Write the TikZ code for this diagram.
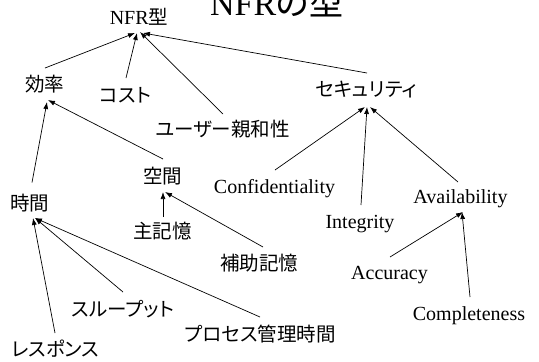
\documentclass[tikz,border=0pt]{standalone}
\usepackage{fontspec}
\setmainfont{Liberation Serif}
\newfontfamily\jp[RawFeature=+palt]{Noto Sans CJK JP}
\usetikzlibrary{arrows.meta}
\tikzset{
  lbl/.style={anchor=base, inner sep=0pt, font=\fontsize{20}{20}\selectfont},
  jlbl/.style={anchor=base, inner sep=0pt, font=\fontsize{19.5}{20}\selectfont\jp},
  arr/.style={line width=0.7pt, -{Latex[length=7pt,width=5pt]}},
}
\begin{document}
\begin{tikzpicture}[x=1pt,y=-1pt]
\useasboundingbox (0,0) rectangle (539,362);
\node[anchor=base west, inner sep=0pt, font=\fontsize{34}{34}\selectfont] (title) at (210,15) {NFR{\jp の型}};
\node[lbl] (nfr) at (139,24) {NFR{\jp\fontsize{19.5}{20}\selectfont 型}};
\node[jlbl] (kouritsu) at (45,91.5) {効率};
\node[jlbl] (cost) at (125.5,102.5) {コスト};
\node[jlbl] (user) at (222.5,136.5) {ユーザー親和性};
\node[jlbl] (sec) at (366,96.5) {セキュリティ};
\node[jlbl] (kukan) at (162.5,183.5) {空間};
\node[jlbl] (jikan) at (30,210.5) {時間};
\node[jlbl] (shu) at (162.5,238.5) {主記憶};
\node[jlbl] (hojo) at (259,270.5) {補助記憶};
\node[jlbl] (thru) at (123,316.5) {スループット};
\node[jlbl] (proc) at (260,341.5) {プロセス管理時間};
\node[jlbl] (resp) at (55.5,356.5) {レスポンス};
\node[lbl] (conf) at (274.5,193) {Confidentiality};
\node[lbl] (integ) at (360,228) {Integrity};
\node[lbl] (avail) at (460.5,203) {Availability};
\node[lbl] (acc) at (389.5,279) {Accuracy};
\node[lbl] (comp) at (469,320) {Completeness};

\draw[arr] ([shift={(0,-23.5)}]kouritsu.base) -- ([shift={(-4,9)}]nfr.base);
\draw[arr] ([shift={(0.5,-24.5)}]cost.base) -- ([shift={(-2,9)}]nfr.base);
\draw[arr] ([shift={(0.5,-22.5)}]user.base) -- ([shift={(1,8)}]nfr.base);
\draw[arr] ([shift={(1,-23.5)}]sec.base) -- ([shift={(4,9)}]nfr.base);

\draw[arr] ([shift={(2,-28)}]jikan.base) -- ([shift={(2,10.5)}]kouritsu.base);
\draw[arr] ([shift={(0.5,-24.5)}]kukan.base) -- ([shift={(3,8.5)}]kouritsu.base);

\draw[arr] ([shift={(0.5,-23)}]conf.base) -- ([shift={(-1,10.5)}]sec.base);
\draw[arr] ([shift={(1,-23)}]integ.base) -- ([shift={(1,10.5)}]sec.base);
\draw[arr] ([shift={(-2.5,-21)}]avail.base) -- ([shift={(4,10.5)}]sec.base);

\draw[arr] ([shift={(0.5,-21.5)}]shu.base) -- ([shift={(0.5,8.5)}]kukan.base);
\draw[arr] ([shift={(4,-23.5)}]hojo.base) -- ([shift={(2.5,8.5)}]kukan.base);

\draw[arr] ([shift={(0,-24.5)}]thru.base) -- ([shift={(5,7.5)}]jikan.base);
\draw[arr] ([shift={(0,-24.5)}]proc.base) -- ([shift={(5,7.5)}]jikan.base);
\draw[arr] ([shift={(-0.5,-23.5)}]resp.base) -- ([shift={(3,7.5)}]jikan.base);

\draw[arr] ([shift={(0.5,-22)}]acc.base) -- ([shift={(2.5,9)}]avail.base);
\draw[arr] ([shift={(1,-23)}]comp.base) -- ([shift={(1.5,9)}]avail.base);
\end{tikzpicture}
\end{document}
